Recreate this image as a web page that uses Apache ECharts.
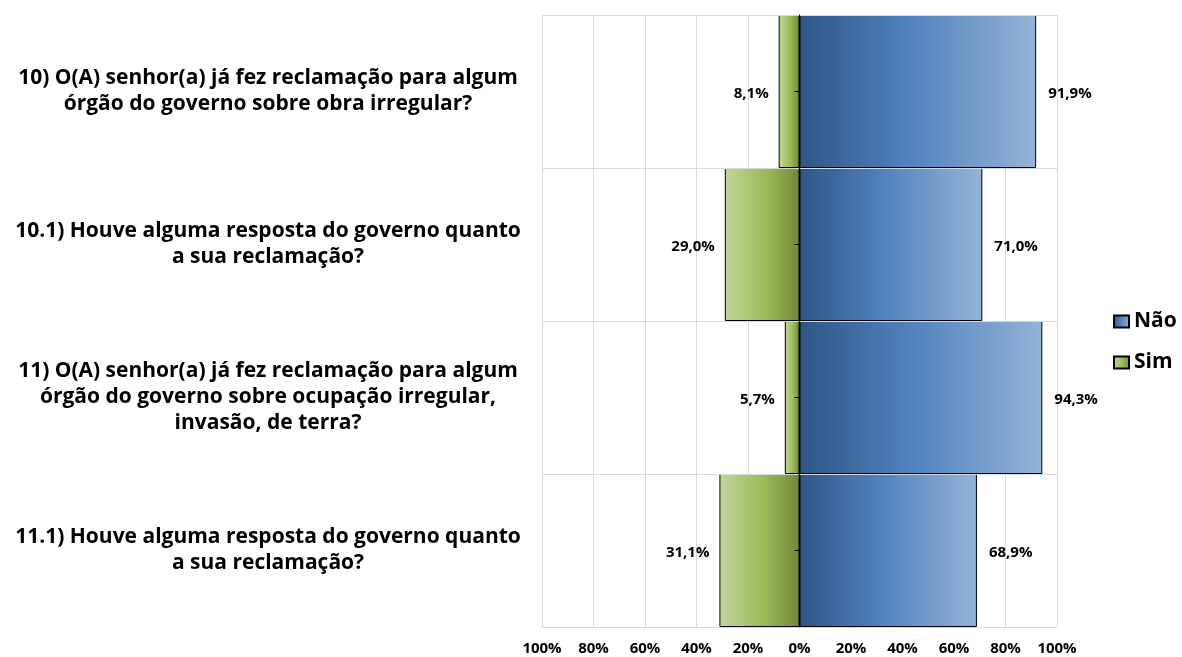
<!DOCTYPE html>
<html>
<head>
<meta charset="utf-8">
<script src="https://cdn.jsdelivr.net/npm/echarts@6/dist/echarts.min.js"></script>
<style>html,body{margin:0;padding:0;background:#fff}#c{width:1182px;height:657px}</style>
</head>
<body>
<div id="c"></div>
<script>
const categories = [
  "10) O(A) senhor(a) já fez reclamação para algum\nórgão do governo sobre obra irregular?",
  "10.1) Houve alguma resposta do governo quanto\na sua reclamação?",
  "11) O(A) senhor(a) já fez reclamação para algum\nórgão do governo sobre ocupação irregular,\ninvasão, de terra?",
  "11.1) Houve alguma resposta do governo quanto\na sua reclamação?"
];
const naoValues = [91.9, 71.0, 94.3, 68.9];
const simValues = [8.1, 29.0, 5.7, 31.1];
const xTicks = [-100, -80, -60, -40, -20, 0, 20, 40, 60, 80, 100];

const FONT = 'Open Sans';
const fmt = v => Math.abs(v).toFixed(1).replace('.', ',') + '%';

const chart = echarts.init(document.getElementById('c'));
chart.setOption({
  backgroundColor: '#fff',
  animation: false,
  textStyle: { fontFamily: FONT },
  grid: { left: 542, right: 125, top: 15, bottom: 30, containLabel: false },
  legend: {
    orient: 'vertical', left: 1108, top: 306,
    itemWidth: 15, itemHeight: 12, itemGap: 20, icon: 'rect',
    data: ['Não', 'Sim'],
    textStyle: { fontFamily: FONT, fontWeight: 'bold', fontSize: 21, color: '#000' }
  },
  xAxis: {
    type: 'value', min: -100, max: 100, interval: 20,
    axisLine: { show: false }, axisTick: { show: false },
    splitLine: { show: true, lineStyle: { color: '#d9d9d9', width: 1 } },
    axisLabel: {
      margin: 14, fontFamily: FONT, fontWeight: 'bold', fontSize: 15, color: '#000',
      formatter: v => xTicks.includes(v) ? Math.abs(v) + '%' : ''
    }
  },
  yAxis: [{
    type: 'category', data: categories, inverse: true, z: 10,
    axisLine: { show: true, onZero: true, lineStyle: { color: '#000', width: 1 } },
    axisTick: { show: true, alignWithLabel: true, length: 5, lineStyle: { color: '#000' } },
    axisLabel: { show: false },
    splitLine: { show: true, lineStyle: { color: '#d9d9d9', width: 1 } }
  }, {
    type: 'category', data: categories, inverse: true, position: 'left',
    axisLine: { show: false, onZero: false }, axisTick: { show: false },
    splitLine: { show: false },
    axisLabel: {
      margin: 274, align: 'center', fontFamily: FONT, fontWeight: 'bold',
      fontSize: 21, lineHeight: 26, color: '#000', padding: [3, 0, 0, 0]
    }
  }],
  series: [{
    name: 'Não', type: 'bar', yAxisIndex: 0, data: naoValues,
    barCategoryGap: '0%', barGap: '-100%',
    itemStyle: {
      borderColor: '#000', borderWidth: 1,
      color: new echarts.graphic.LinearGradient(0, 0, 1, 0, [
        { offset: 0, color: '#2f5585' },
        { offset: 0.45, color: '#4f81bd' },
        { offset: 1, color: '#95b3d7' }
      ])
    },
    label: {
      show: true, position: 'right', distance: 12, offset: [0, 2], formatter: p => fmt(p.value),
      fontFamily: FONT, fontWeight: 'bold', fontSize: 15, color: '#000'
    }
  }, {
    name: 'Sim', type: 'bar', yAxisIndex: 0, data: simValues.map(v => -v),
    barCategoryGap: '0%', barGap: '-100%',
    itemStyle: {
      borderColor: '#000', borderWidth: 1,
      color: new echarts.graphic.LinearGradient(0, 0, 1, 0, [
        { offset: 0, color: '#c3d69b' },
        { offset: 0.55, color: '#9bbb59' },
        { offset: 1, color: '#71893a' }
      ])
    },
    label: {
      show: true, position: 'left', distance: 10, offset: [0, 2], formatter: p => fmt(p.value),
      fontFamily: FONT, fontWeight: 'bold', fontSize: 15, color: '#000'
    }
  }]
});
</script>
</body>
</html>
